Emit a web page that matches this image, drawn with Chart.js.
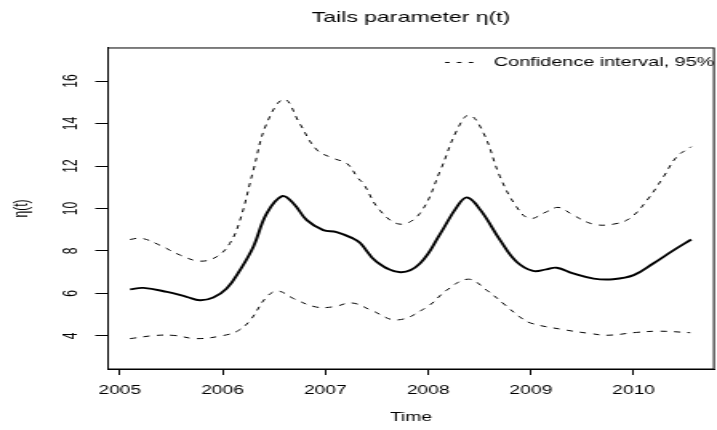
<!DOCTYPE html>
<html>
<head>
<meta charset="utf-8">
<script src="https://cdn.jsdelivr.net/npm/chart.js@4/dist/chart.umd.min.js"></script>
<style>
  html, body { margin: 0; padding: 0; background: #fff; overflow: hidden; }
  /* the reference is an R plot stretched sideways, so draw narrow and stretch */
  #wrap { width: 448px; height: 430px; transform: scale(1.6004, 1); transform-origin: 0 0; }
</style>
</head>
<body>
<div id="wrap"><canvas id="c"></canvas></div>
<script>
// fitted tails parameter eta(t)
const fitTime = [2005.10, 2005.23, 2005.46, 2005.65, 2005.78, 2005.91, 2006.04, 2006.17, 2006.30, 2006.43,
  2006.58, 2006.69, 2006.82, 2006.98, 2007.11, 2007.27, 2007.34, 2007.50, 2007.73, 2007.92,
  2008.12, 2008.28, 2008.38, 2008.51, 2008.70, 2008.86, 2009.02, 2009.15, 2009.25, 2009.41,
  2009.61, 2009.80, 2010.00, 2010.19, 2010.39, 2010.56];
const fitEta = [6.19, 6.26, 6.07, 5.84, 5.68, 5.81, 6.23, 7.10, 8.20, 9.77,
  10.58, 10.24, 9.45, 8.98, 8.89, 8.59, 8.38, 7.49, 7.00, 7.41,
  8.83, 10.08, 10.52, 9.92, 8.51, 7.49, 7.06, 7.13, 7.21, 6.94,
  6.70, 6.67, 6.86, 7.41, 8.04, 8.54];

// upper bound of the 95% interval
const upperTime = [2005.10, 2005.21, 2005.39, 2005.59, 2005.78, 2005.94, 2006.07, 2006.17, 2006.30, 2006.43,
  2006.60, 2006.75, 2006.92, 2007.08, 2007.21, 2007.32, 2007.37, 2007.53, 2007.73, 2007.92,
  2008.12, 2008.28, 2008.40, 2008.54, 2008.70, 2008.86, 2008.99, 2009.15, 2009.27, 2009.41,
  2009.61, 2009.80, 2009.96, 2010.13, 2010.29, 2010.42, 2010.56];
const upperEta = [8.54, 8.60, 8.27, 7.80, 7.52, 7.72, 8.35, 9.45, 11.81, 14.01,
  15.14, 14.01, 12.75, 12.36, 12.12, 11.42, 11.18, 9.92, 9.26, 9.77,
  11.81, 13.69, 14.40, 13.54, 11.49, 10.08, 9.53, 9.84, 10.05, 9.69,
  9.26, 9.26, 9.53, 10.39, 11.49, 12.44, 12.91];

// lower bound of the 95% interval
const lowerTime = [2005.10, 2005.35, 2005.53, 2005.75, 2006.01, 2006.15, 2006.27, 2006.43, 2006.54, 2006.69,
  2006.91, 2007.08, 2007.26, 2007.45, 2007.70, 2007.99, 2008.18, 2008.39, 2008.57, 2008.75,
  2008.89, 2009.00, 2009.31, 2009.58, 2009.75, 2010.02, 2010.25, 2010.55];
const lowerEta = [3.87, 4.02, 4.02, 3.87, 4.02, 4.24, 4.74, 5.84, 6.11, 5.76,
  5.36, 5.37, 5.55, 5.20, 4.75, 5.37, 6.15, 6.67, 6.15, 5.45,
  4.90, 4.60, 4.30, 4.11, 4.03, 4.16, 4.22, 4.15];

const xTicks = [2005, 2006, 2007, 2008, 2009, 2010];
const yTicks = [4, 6, 8, 10, 12, 14, 16];
const legendText = 'Confidence interval, 95%';

const FONT = 'Liberation Sans, Arial, Helvetica, sans-serif';
const DASH = [4, 4.5];
const toPoints = (xs, ys) => xs.map((x, i) => ({ x: x, y: ys[i] }));

// box around the plot region plus the R style legend without frame
const rFrame = {
  id: 'rFrame',
  afterDraw(chart) {
    const { ctx, chartArea: a } = chart;
    ctx.save();
    ctx.strokeStyle = '#000';
    ctx.lineWidth = 1;
    ctx.strokeRect(a.left, a.top, a.right - a.left, a.bottom - a.top);

    const y = a.top + 14.5;
    ctx.setLineDash([2.8, 4.6]);
    ctx.beginPath();
    ctx.moveTo(a.right - 168, y);
    ctx.lineTo(a.right - 147.4, y);
    ctx.stroke();
    ctx.setLineDash([]);
    ctx.fillStyle = '#000';
    ctx.font = '12.4px ' + FONT;
    ctx.textBaseline = 'middle';
    ctx.textAlign = 'left';
    ctx.fillText(legendText, a.right - 137.5, y);
    ctx.restore();
  }
};

const lineStyle = { borderColor: '#000', pointRadius: 0, tension: 0.4 };

new Chart(document.getElementById('c'), {
  type: 'line',
  data: {
    datasets: [
      Object.assign({ data: toPoints(fitTime, fitEta), borderWidth: 1.9 }, lineStyle),
      Object.assign({ data: toPoints(upperTime, upperEta), borderWidth: 1, borderDash: DASH }, lineStyle),
      Object.assign({ data: toPoints(lowerTime, lowerEta), borderWidth: 1, borderDash: DASH }, lineStyle)
    ]
  },
  options: {
    responsive: true,
    maintainAspectRatio: false,
    animation: false,
    layout: { padding: { left: 0, right: 1.9, top: 0, bottom: 0 } },
    plugins: {
      legend: { display: false },
      tooltip: { enabled: false },
      title: {
        display: true,
        text: 'Tails parameter η(t)',
        fullSize: false,
        color: '#000',
        font: { family: FONT, size: 14.4, weight: 'normal' },
        padding: { top: 9.4, bottom: 21.3 }
      }
    },
    scales: {
      x: {
        type: 'linear',
        min: 2004.886,
        max: 2010.781,
        afterBuildTicks: s => { s.ticks = xTicks.map(v => ({ value: v })); },
        afterFit: s => { s.height = 61; },
        ticks: {
          color: '#000',
          font: { family: FONT, size: 12 },
          padding: 8.5,
          maxRotation: 0,
          callback: v => String(v)
        },
        grid: { drawOnChartArea: false, drawTicks: true, tickLength: 6, color: '#000' },
        border: { display: true, color: '#000', width: 1 },
        title: {
          display: true,
          text: 'Time',
          color: '#000',
          font: { family: FONT, size: 12 },
          padding: { top: 0, bottom: 4.8 }
        }
      },
      y: {
        min: 2.44,
        max: 17.56,
        afterBuildTicks: s => { s.ticks = yTicks.map(v => ({ value: v })); },
        afterFit: s => { s.width = 67.5; },
        ticks: {
          color: '#000',
          font: { family: FONT, size: 12 },
          padding: 7.8,
          minRotation: 90,
          maxRotation: 90,
          crossAlign: 'center',
          callback: v => String(v)
        },
        grid: { drawOnChartArea: false, drawTicks: true, tickLength: 8, color: '#000' },
        border: { display: true, color: '#000', width: 1 },
        title: {
          display: true,
          text: 'η(t)',
          color: '#000',
          font: { family: FONT, size: 12 },
          padding: { top: 6.5, bottom: 0 }
        }
      }
    }
  },
  plugins: [rFrame]
});
</script>
</body>
</html>
